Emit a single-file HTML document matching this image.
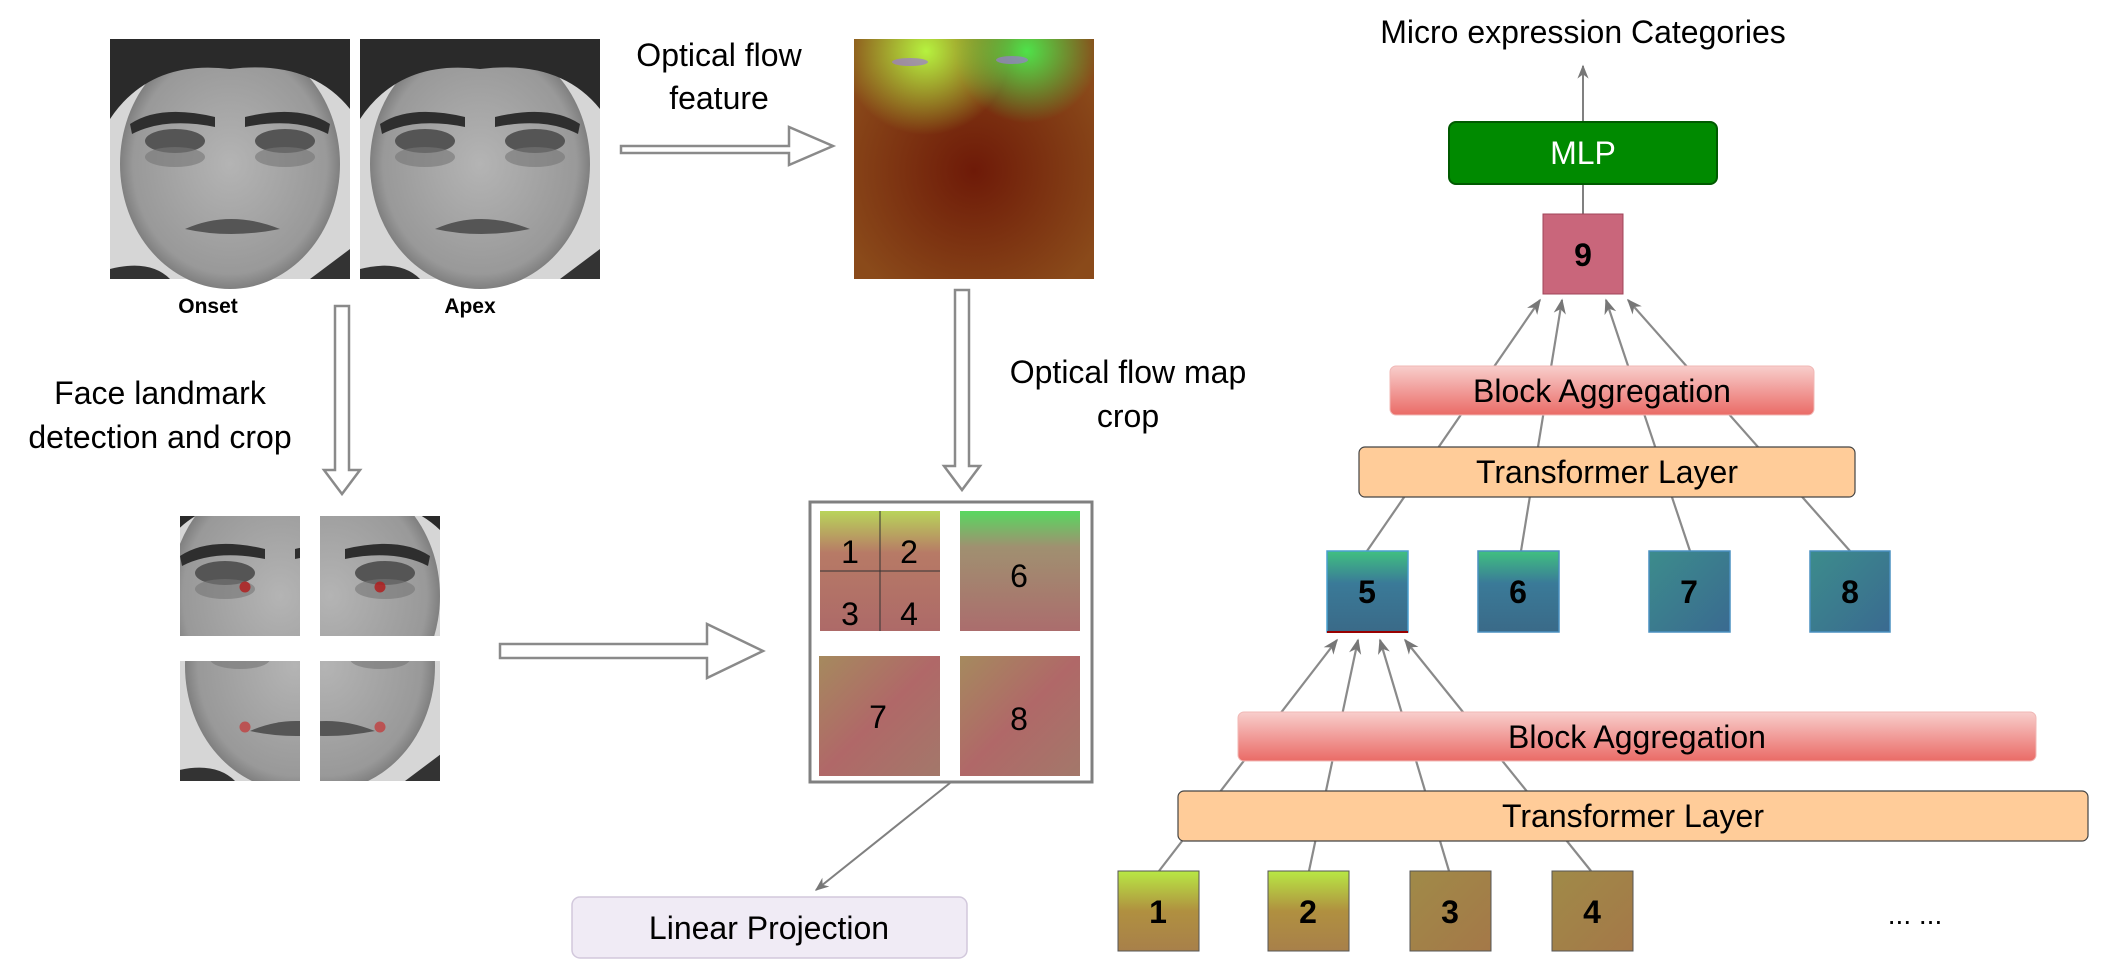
<!DOCTYPE html>
<html><head><meta charset="utf-8"><style>
html,body{margin:0;padding:0;background:#fff}
svg{display:block}
text{font-family:"Liberation Sans",sans-serif}
</style></head><body>
<svg width="2118" height="963" viewBox="0 0 2118 963" xmlns="http://www.w3.org/2000/svg">
<defs>
<linearGradient id="skin" x1="0" y1="0" x2="0" y2="1"><stop offset="0" stop-color="#9a9a9a"/><stop offset="0.5" stop-color="#a8a8a8"/><stop offset="1" stop-color="#8a8a8a"/></linearGradient>
<radialGradient id="faceg" cx="0.5" cy="0.5" r="0.55"><stop offset="0" stop-color="#b4b4b4"/><stop offset="0.8" stop-color="#999"/><stop offset="1" stop-color="#6a6a6a"/></radialGradient>
<g id="face">
<rect width="240" height="240" fill="#d6d6d6"/>
<ellipse cx="120" cy="125" rx="110" ry="125" fill="url(#faceg)"/>
<path d="M0 0H240V70Q200 20 120 30Q40 20 0 80Z" fill="#2a2a2a"/>
<path d="M20 85Q50 65 105 78L105 88Q55 78 22 95Z" fill="#2e2e2e"/>
<path d="M220 85Q190 65 135 78L135 88Q185 78 218 95Z" fill="#2e2e2e"/>
<ellipse cx="65" cy="102" rx="30" ry="12" fill="#555"/>
<ellipse cx="175" cy="102" rx="30" ry="12" fill="#555"/>
<ellipse cx="65" cy="118" rx="30" ry="10" fill="#777" opacity="0.6"/>
<ellipse cx="175" cy="118" rx="30" ry="10" fill="#777" opacity="0.6"/>
<path d="M75 190Q120 170 170 190Q120 200 75 190Z" fill="#555"/>
<path d="M0 240L0 230Q40 220 60 240Z" fill="#333"/>
<path d="M240 240L240 210Q220 225 200 240Z" fill="#333"/>
</g>
<radialGradient id="fg1" cx="0.3" cy="0.05" r="0.35"><stop offset="0" stop-color="#b6f23f"/><stop offset="1" stop-color="#b6f23f" stop-opacity="0"/></radialGradient>
<radialGradient id="fg2" cx="0.72" cy="0.05" r="0.3"><stop offset="0" stop-color="#4fe24a"/><stop offset="1" stop-color="#4fe24a" stop-opacity="0"/></radialGradient>
<radialGradient id="fred" cx="0.5" cy="0.55" r="0.6"><stop offset="0" stop-color="#6e1a08"/><stop offset="1" stop-color="#8a4a1a"/></radialGradient>
<linearGradient id="pink" x1="0" y1="0" x2="1" y2="1"><stop offset="0" stop-color="#a58a5e"/><stop offset="0.5" stop-color="#b06868"/><stop offset="1" stop-color="#a3786a"/></linearGradient>
<linearGradient id="pinkB" x1="0" y1="0" x2="0" y2="1"><stop offset="0" stop-color="#b9d45a"/><stop offset="0.35" stop-color="#b77a66"/><stop offset="1" stop-color="#ad6a68"/></linearGradient>
<linearGradient id="pink6" x1="0" y1="0" x2="0" y2="1"><stop offset="0" stop-color="#58d860"/><stop offset="0.3" stop-color="#a09070"/><stop offset="1" stop-color="#ab6d6d"/></linearGradient>
<linearGradient id="blueg" x1="0" y1="0" x2="1" y2="1"><stop offset="0" stop-color="#3c8c8c"/><stop offset="1" stop-color="#3a6a90"/></linearGradient>
<linearGradient id="blue5" x1="0" y1="0" x2="0" y2="1"><stop offset="0" stop-color="#40c080"/><stop offset="0.4" stop-color="#3a7a98"/><stop offset="1" stop-color="#3a6a88"/></linearGradient>
<linearGradient id="t1" x1="0" y1="0" x2="0" y2="1"><stop offset="0" stop-color="#b8e844"/><stop offset="0.5" stop-color="#b09040"/><stop offset="1" stop-color="#a8804a"/></linearGradient>
<linearGradient id="t3" x1="0" y1="0" x2="1" y2="1"><stop offset="0" stop-color="#a08a48"/><stop offset="1" stop-color="#a47848"/></linearGradient>
<linearGradient id="ba" x1="0" y1="0" x2="0" y2="1"><stop offset="0" stop-color="#f8cecc"/><stop offset="1" stop-color="#ea6b66"/></linearGradient>
<marker id="ah" viewBox="0 0 10 10" refX="9" refY="5" markerWidth="7" markerHeight="7" orient="auto-start-reverse"><path d="M0 1L10 5L0 9L3 5Z" fill="#777"/></marker>
</defs>

<!-- faces -->
<use href="#face" x="110" y="39"/>
<use href="#face" x="360" y="39"/>
<text x="208" y="313" font-size="21" font-weight="bold" text-anchor="middle">Onset</text>
<text x="470" y="313" font-size="21" font-weight="bold" text-anchor="middle">Apex</text>

<!-- optical flow feature -->
<text x="719" y="66" font-size="32" text-anchor="middle">Optical flow</text>
<text x="719" y="109" font-size="32" text-anchor="middle">feature</text>
<path d="M621 153H789V134L833 153L789 172V160H621Z" transform="translate(0,-7)" fill="#fff" stroke="#8a8a8a" stroke-width="2.5"/>

<rect x="854" y="39" width="240" height="240" fill="url(#fred)"/>
<rect x="854" y="39" width="240" height="240" fill="url(#fg1)"/>
<rect x="854" y="39" width="240" height="240" fill="url(#fg2)"/>
<ellipse cx="910" cy="62" rx="18" ry="4" fill="#9a7ad0" opacity="0.7"/>
<ellipse cx="1012" cy="60" rx="16" ry="4" fill="#9a7ad0" opacity="0.7"/>

<!-- down arrow from flow -->
<path d="M955 290H969V466H980L962 490L944 466H955Z" fill="#fff" stroke="#8a8a8a" stroke-width="2.5"/>
<text x="1128" y="383" font-size="32" text-anchor="middle">Optical flow map</text>
<text x="1128" y="427" font-size="32" text-anchor="middle">crop</text>

<!-- face landmark -->
<text x="160" y="404" font-size="32" text-anchor="middle">Face landmark</text>
<text x="160" y="448" font-size="32" text-anchor="middle">detection and crop</text>
<path d="M335 306H349V470H360L342 494L324 470H335Z" fill="#fff" stroke="#8a8a8a" stroke-width="2.5"/>

<!-- crops -->
<svg x="180" y="516" width="120" height="120" viewBox="20 45 120 120"><use href="#face"/></svg>
<svg x="320" y="516" width="120" height="120" viewBox="110 45 120 120"><use href="#face"/></svg>
<svg x="180" y="661" width="120" height="120" viewBox="5 120 120 120"><use href="#face"/></svg>
<svg x="320" y="661" width="120" height="120" viewBox="115 120 120 120"><use href="#face"/></svg>
<circle cx="245" cy="587" r="5.5" fill="#b02020" opacity="0.85"/>
<circle cx="380" cy="587" r="5.5" fill="#b02020" opacity="0.85"/>
<circle cx="245" cy="727" r="5.5" fill="#c04040" opacity="0.8"/>
<circle cx="380" cy="727" r="5.5" fill="#c04040" opacity="0.8"/>

<path d="M500 644H707V624L763 651L707 678V658H500Z" fill="#fff" stroke="#8a8a8a" stroke-width="2.5"/>

<!-- crop box -->
<rect x="810" y="502" width="282" height="280" fill="#fff" stroke="#808080" stroke-width="3"/>
<rect x="820" y="511" width="120" height="120" fill="url(#pinkB)"/>
<line x1="880" y1="511" x2="880" y2="631" stroke="#333" stroke-width="1"/>
<line x1="820" y1="571" x2="940" y2="571" stroke="#333" stroke-width="1"/>
<rect x="960" y="511" width="120" height="120" fill="url(#pink6)"/>
<rect x="819" y="656" width="121" height="120" fill="url(#pink)"/>
<rect x="960" y="656" width="120" height="120" fill="url(#pink)"/>
<g font-size="32" text-anchor="middle">
<text x="850" y="563">1</text><text x="909" y="563">2</text>
<text x="850" y="625">3</text><text x="909" y="625">4</text>
<text x="1019" y="587">6</text><text x="878" y="728">7</text><text x="1019" y="730">8</text>
</g>
<line x1="950" y1="783" x2="816" y2="890" stroke="#808080" stroke-width="2" marker-end="url(#ah)"/>
<rect x="572" y="897" width="395" height="61" rx="8" fill="#f0ebf5" stroke="#d2c8dc" stroke-width="1.5"/>
<text x="769" y="939" font-size="32" text-anchor="middle">Linear Projection</text>

<!-- right side -->
<text x="1583" y="43" font-size="32" text-anchor="middle">Micro expression Categories</text>
<line x1="1583" y1="122" x2="1583" y2="66" stroke="#808080" stroke-width="2" marker-end="url(#ah)"/>
<line x1="1583" y1="184" x2="1583" y2="214" stroke="#808080" stroke-width="2"/>
<rect x="1449" y="122" width="268" height="62" rx="7" fill="#008a00" stroke="#005a00" stroke-width="2"/>
<text x="1583" y="164" font-size="32" fill="#fff" text-anchor="middle">MLP</text>
<rect x="1543" y="214" width="80" height="80" fill="#c9667b" stroke="#a04458" stroke-width="1"/>
<text x="1583" y="266" font-size="32" font-weight="bold" text-anchor="middle">9</text>

<g stroke="#8a8a8a" stroke-width="2.2">
<line x1="1367" y1="551" x2="1540" y2="300" marker-end="url(#ah)"/>
<line x1="1521" y1="551" x2="1562" y2="300" marker-end="url(#ah)"/>
<line x1="1690" y1="551" x2="1606" y2="300" marker-end="url(#ah)"/>
<line x1="1850" y1="551" x2="1628" y2="300" marker-end="url(#ah)"/>
<line x1="1159" y1="871" x2="1337" y2="640" marker-end="url(#ah)"/>
<line x1="1309" y1="871" x2="1358" y2="640" marker-end="url(#ah)"/>
<line x1="1449" y1="871" x2="1380" y2="640" marker-end="url(#ah)"/>
<line x1="1591" y1="871" x2="1405" y2="640" marker-end="url(#ah)"/>
</g>

<rect x="1390" y="366" width="424" height="49" rx="6" fill="url(#ba)" stroke="#f0b8b6" stroke-width="1"/>
<text x="1602" y="402" font-size="32" text-anchor="middle">Block Aggregation</text>
<rect x="1359" y="447" width="496" height="50" rx="6" fill="#ffcc99" stroke="#444" stroke-width="1.2"/>
<text x="1607" y="483" font-size="32" text-anchor="middle">Transformer Layer</text>

<rect x="1327" y="551" width="81" height="81" fill="url(#blue5)" stroke="#4aa0d0" stroke-width="1.5"/>
<line x1="1327" y1="632" x2="1408" y2="632" stroke="#900" stroke-width="2"/>
<rect x="1478" y="551" width="81" height="81" fill="url(#blue5)" stroke="#4a90c0" stroke-width="1.5"/>
<rect x="1649" y="551" width="81" height="81" fill="url(#blueg)" stroke="#4a90c0" stroke-width="1.5"/>
<rect x="1810" y="551" width="80" height="81" fill="url(#blueg)" stroke="#4a90c0" stroke-width="1.5"/>
<g font-size="32" font-weight="bold" text-anchor="middle">
<text x="1367" y="603">5</text><text x="1518" y="603">6</text><text x="1689" y="603">7</text><text x="1850" y="603">8</text>
</g>

<rect x="1238" y="712" width="798" height="49" rx="6" fill="url(#ba)" stroke="#f0b8b6" stroke-width="1"/>
<text x="1637" y="748" font-size="32" text-anchor="middle">Block Aggregation</text>
<rect x="1178" y="791" width="910" height="50" rx="6" fill="#ffcc99" stroke="#444" stroke-width="1.2"/>
<text x="1633" y="827" font-size="32" text-anchor="middle">Transformer Layer</text>

<rect x="1118" y="871" width="81" height="80" fill="url(#t1)" stroke="#555" stroke-width="1"/>
<rect x="1268" y="871" width="81" height="80" fill="url(#t1)" stroke="#555" stroke-width="1"/>
<rect x="1410" y="871" width="81" height="80" fill="url(#t3)" stroke="#555" stroke-width="1"/>
<rect x="1552" y="871" width="81" height="80" fill="url(#t3)" stroke="#555" stroke-width="1"/>
<g font-size="32" font-weight="bold" text-anchor="middle">
<text x="1158" y="923">1</text><text x="1308" y="923">2</text><text x="1450" y="923">3</text><text x="1592" y="923">4</text>
</g>
<text x="1915" y="924" font-size="28" text-anchor="middle">...   ...</text>
</svg>
</body></html>
